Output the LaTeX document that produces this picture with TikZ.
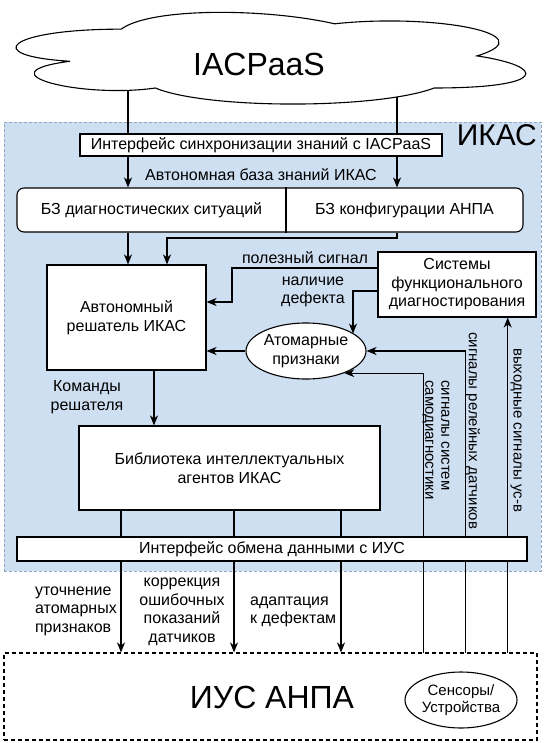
\documentclass[tikz,border=0pt]{standalone}
\usepackage{fontspec}
\setmainfont{Liberation Sans}
\usetikzlibrary{arrows.meta,shapes.geometric,calc}
\pgfdeclarelayer{back}
\pgfsetlayers{back,main}
\definecolor{ikasblue}{HTML}{CFDFF2}
\definecolor{ikasedge}{HTML}{8FA8C8}
\begin{document}
\begin{tikzpicture}[x=1pt,y=1pt,
  txt/.style={font=\fontsize{16}{18.5}\selectfont},
  box/.style={draw, fill=white, line width=1.1pt, inner sep=0pt, align=center, txt},
  lbl/.style={inner sep=0pt, align=center, txt},
  arr/.style={line width=1.1pt, -{Stealth[length=10pt,width=8pt,inset=3pt]}},
  ln/.style={line width=1.1pt},
  vlbl/.style={inner sep=0pt, align=left, rotate=-90, anchor=west, font=\fontsize{15}{16}\selectfont}]
\useasboundingbox (0,0) rectangle (546,-743);
% cloud
\draw[fill=white, line width=1.1pt] (121.25,-29.15) .. controls (7.45,-29.15) and (-21,-55.9) .. (70.04,-61.25)
  .. controls (-21,-73.02) and (81.42,-98.7) .. (155.39,-88)
  .. controls (206.6,-109.4) and (377.3,-109.4) .. (434.2,-88)
  .. controls (548,-88) and (548,-66.6) .. (476.9,-55.9)
  .. controls (548,-34.5) and (434.2,-13.1) .. (334.6,-23.8)
  .. controls (263.5,-7.75) and (149.7,-7.75) .. (121.25,-29.15) -- cycle;
\node[inner sep=0pt, font=\fontsize{32}{36}\selectfont] (iac) at (259,-64) {IACPaaS};
% helper coordinates
\coordinate (cl1) at (128,-80);
\coordinate (cl2) at (397,-80);
\coordinate (dv) at (286,0);
% main nodes
\node[box, minimum width=362, minimum height=22] (sync) at (261,-145) {Интерфейс синхронизации знаний с IACPaaS};
\node[inner sep=0pt, anchor=east, font=\fontsize{30}{34}\selectfont] (ikaslbl) at (537,-135) {ИКАС};
\node[lbl] (kblbl) at (261,-175) {Автономная база знаний ИКАС};
\node[box, rounded corners=7pt, minimum width=506, minimum height=44] (bz) at (270,-210) {};
\node[lbl] (bzL) at (151.5,-210) {БЗ диагностических ситуаций};
\node[lbl] (bzR) at (404.5,-210) {БЗ конфигурации АНПА};
\node[box, minimum width=159, minimum height=105] (solver) at (126.5,-317.5) {Автономный\\решатель ИКАС};
\node[box, minimum width=158, minimum height=65] (sys) at (457,-284.5) {Системы\\функционального\\диагностирования};
\node[box, ellipse, minimum width=120, minimum height=56] (atom) at (306,-351) {Атомарные\\признаки};
\node[box, minimum width=301, minimum height=84] (lib) at (229.5,-468) {Библиотека интеллектуальных\\агентов ИКАС};
\node[box, minimum width=510, minimum height=24] (ifc) at (272,-549) {Интерфейс обмена данными с ИУС};
\node[draw, fill=white, line width=1.1pt, dash pattern=on 4pt off 3pt, minimum width=533, minimum height=87, inner sep=0pt] (ius) at (270.5,-696.5) {};
\node[inner sep=0pt, font=\fontsize{32}{36}\selectfont] (iuslbl) at (272,-697) {ИУС АНПА};
\node[box, ellipse, minimum width=112, minimum height=56, font=\fontsize{15}{17.5}\selectfont] (sens) at (461,-700) {Сенсоры/\\Устройства};
% labels
\node[lbl] (lpol) at (305,-258) {полезный сигнал};
\node[lbl] (lnal) at (313,-292) {наличие\\дефекта};
\node[lbl] (lcmd) at (87,-397) {Команды\\решателя};
\node[lbl, align=left, anchor=east] (lut) at (117,-611) {уточнение\\атомарных\\признаков};
\node[lbl] (lkor) at (182,-612) {коррекция\\ошибочных\\показаний\\датчиков};
\node[lbl, align=left, anchor=west] (lad) at (250,-612) {адаптация\\к дефектам};
\node[vlbl] (lsd) at (436,-380) {сигналы систем\\самодиагностики};
\node[vlbl] (lrel) at (473,-332) {сигналы релейных датчиков};
\node[vlbl] (lout) at (516,-348) {выходные сигналы ус-в};
% divider in knowledge base
\draw[ln] (bz.north -| dv) -- (bz.south -| dv);
% helper coordinates for connectors
\coordinate (k1) at (167,-238);
\coordinate (p1) at (232,-268);
\coordinate (p2) at (232,-302);
\coordinate (n1) at (353,-291);
\coordinate (cs) at ([xshift=27.5pt]solver.south);
\coordinate (b1) at (121,0);
\coordinate (b2) at (234,0);
\coordinate (b3) at (341,0);
\begin{pgfonlayer}{back}
  \node[draw=ikasedge, fill=ikasblue, line width=0.8pt, dash pattern=on 3pt off 2pt, minimum width=537, minimum height=449, inner sep=0pt] (ikas) at (272.5,-346.5) {};
  \draw[ln] (cl1) -- (cl1 |- sync.north);
  \draw[ln] (cl2) -- (cl2 |- sync.north);
  \draw[arr] (sens.81.9) -- (sens.81.9 |- atom.east) -- (atom.east);
  \draw[arr] (sens.150.4) -- (sens.150.4 |- atom.-30) -- (atom.-30);
  \draw[arr] (sens.19.2) -- (sens.19.2 |- sys.south);
\end{pgfonlayer}
\draw[arr] (cl1 |- sync.south) -- (cl1 |- bz.north);
\draw[arr] (cl2 |- sync.south) -- (cl2 |- bz.north);
\draw[arr] (cl1 |- bz.south) -- (cl1 |- solver.north);
\draw[arr] (cl2 |- bz.south) |- (k1) -- (k1 |- solver.north);
\draw[arr] (sys.west |- p1) -- (p1) -- (p2) -- (solver.east |- p2);
\draw[arr] (sys.west |- n1) -- (n1) -- (n1 |- atom.20);
\draw[arr] (atom.west) -- (solver.east |- atom.west);
\draw[arr] (cs) -- (cs |- lib.north);
\foreach \b in {b1,b2,b3} {
  \draw[ln] (\b |- lib.south) -- (\b |- ifc.north);
  \draw[arr] (\b |- ifc.south) -- (\b |- ius.north);
}
\end{tikzpicture}
\end{document}
